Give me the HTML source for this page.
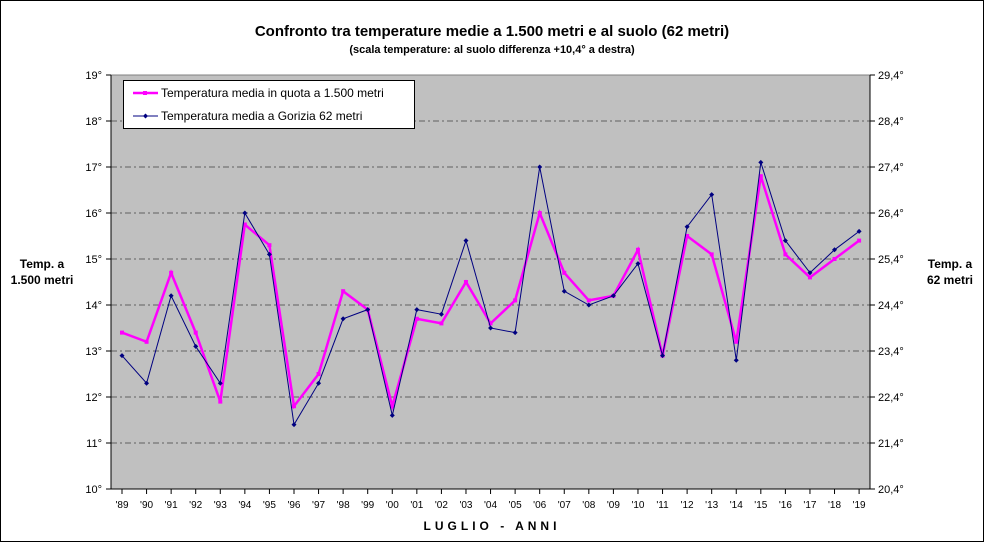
<!DOCTYPE html>
<html><head><meta charset="utf-8"><style>
body{margin:0;background:#fff;}
svg{display:block;font-family:"Liberation Sans",Arial,sans-serif;}
</style></head><body>
<svg id="c" width="985" height="543" xmlns="http://www.w3.org/2000/svg">
<rect x="0.5" y="0.5" width="983" height="541" fill="#fff" stroke="#000"/>
<text x="492" y="36" text-anchor="middle" font-size="15" font-weight="bold">Confronto tra temperature medie a 1.500 metri e al suolo (62 metri)</text>
<text x="492" y="53" text-anchor="middle" font-size="11" font-weight="bold">(scala temperature: al suolo differenza +10,4° a destra)</text>
<rect x="111" y="75" width="759" height="414" fill="#c0c0c0" stroke="#808080"/>
<g id="grid"></g>
<line x1="111" y1="75" x2="111" y2="489" stroke="#000"/>
<line x1="870" y1="75" x2="870" y2="489" stroke="#000"/>
<line x1="111" y1="489" x2="870" y2="489" stroke="#000"/>
<g id="ax" font-size="11"></g>
<text x="42" y="268" text-anchor="middle" font-size="12" font-weight="bold">Temp. a</text>
<text x="42" y="284" text-anchor="middle" font-size="12" font-weight="bold">1.500 metri</text>
<text x="950" y="268" text-anchor="middle" font-size="12" font-weight="bold">Temp. a</text>
<text x="950" y="284" text-anchor="middle" font-size="12" font-weight="bold">62 metri</text>
<text x="492" y="530" text-anchor="middle" font-size="12" font-weight="bold" letter-spacing="4">LUGLIO - ANNI</text>
<g id="series"></g>
<rect x="123.5" y="80.5" width="291" height="48" fill="#fff" stroke="#000"/>
<line x1="133" y1="93" x2="158" y2="93" stroke="#ff00ff" stroke-width="2.5"/>
<rect x="143" y="91" width="4" height="4" fill="#ff00ff"/>
<text x="161" y="97" font-size="12">Temperatura media in quota a 1.500 metri</text>
<line x1="133" y1="116" x2="158" y2="116" stroke="#000080" stroke-width="1"/>
<path d="M145.5 113.5 L148 116 L145.5 118.5 L143 116Z" fill="#000080"/>
<text x="161" y="120" font-size="12">Temperatura media a Gorizia  62 metri</text>
</svg>
<script>
var ns="http://www.w3.org/2000/svg";
function el(p,t,a,txt){var e=document.createElementNS(ns,t);for(var k in a)e.setAttribute(k,a[k]);if(txt!=null)e.textContent=txt;document.getElementById(p).appendChild(e);return e;}
function Y(v){return 489-(v-10)*46;}
var x0=122,dx=24.57;
for(var i=0;i<=9;i++){var y=Y(10+i);
 if(i>0&&i<9)el("grid","line",{x1:111,y1:y,x2:870,y2:y,stroke:"#000","stroke-dasharray":"6,3,2,3","stroke-width":"0.6"});
 el("ax","line",{x1:106,y1:y,x2:111,y2:y,stroke:"#000"});
 el("ax","line",{x1:870,y1:y,x2:875,y2:y,stroke:"#000"});
 el("ax","text",{x:102,y:y+4,"text-anchor":"end"},(10+i)+"°");
 el("ax","text",{x:878,y:y+4},(20+i)+",4°");
}
for(var i=0;i<31;i++){var yr=(1989+i)%100;var x=x0+i*dx;
 el("ax","line",{x1:x,y1:489,x2:x,y2:494,stroke:"#000"});
 el("ax","text",{x:x,y:508,"text-anchor":"middle","font-size":"10"},"'"+(yr<10?"0"+yr:yr));
}
var m=[13.4,13.2,14.7,13.4,11.9,15.75,15.3,11.8,12.5,14.3,13.9,11.8,13.7,13.6,14.5,13.6,14.1,16.0,14.7,14.1,14.2,15.2,12.9,15.5,15.1,13.2,16.8,15.1,14.6,15.0,15.4];
var b=[12.9,12.3,14.2,13.1,12.3,16.0,15.1,11.4,12.3,13.7,13.9,11.6,13.9,13.8,15.4,13.5,13.4,17.0,14.3,14.0,14.2,14.9,12.9,15.7,16.4,12.8,17.1,15.4,14.7,15.2,15.6];
function pts(a){return a.map(function(v,i){return (x0+i*dx).toFixed(1)+","+Y(v).toFixed(1)}).join(" ");}
el("series","polyline",{points:pts(m),fill:"none",stroke:"#ff00ff","stroke-width":"2.5"});
m.forEach(function(v,i){el("series","rect",{x:x0+i*dx-2,y:Y(v)-2,width:4,height:4,fill:"#ff00ff"});});
el("series","polyline",{points:pts(b),fill:"none",stroke:"#000080","stroke-width":"1"});
b.forEach(function(v,i){var x=x0+i*dx,y=Y(v);el("series","path",{d:"M"+x+" "+(y-2.5)+"L"+(x+2.5)+" "+y+"L"+x+" "+(y+2.5)+"L"+(x-2.5)+" "+y+"Z",fill:"#000080"});});
</script>
</body></html>
